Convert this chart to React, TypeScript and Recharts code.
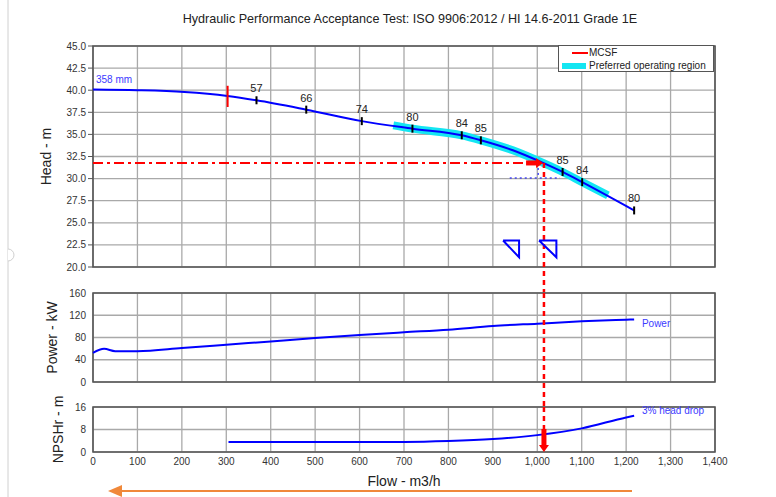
import React from 'react';
import {
  ComposedChart,
  Line,
  Scatter,
  XAxis,
  YAxis,
  CartesianGrid,
  ReferenceLine,
  ReferenceArea,
  ReferenceDot,
} from 'recharts';

// axis ticks
const flowTicks = [0, 100, 200, 300, 400, 500, 600, 700, 800, 900, 1000, 1100, 1200, 1300, 1400];
const headTicks = [20, 22.5, 25, 27.5, 30, 32.5, 35, 37.5, 40, 42.5, 45];
const powerTicks = [0, 40, 80, 120, 160];
const npshTicks = [0, 8, 16];

// head curve (358 mm impeller)
const headFlow = [0, 100, 206, 303, 368, 480, 605, 719, 830, 873, 945, 1013, 1057, 1101, 1218];
const headValue = [40.07, 40.0, 39.8, 39.35, 38.86, 37.8, 36.5, 35.65, 34.9, 34.33, 33.2, 31.77, 30.75, 29.6, 26.4];

// efficiency markers on the head curve
const effFlow = [368, 480, 605, 719, 830, 873, 1057, 1101, 1218];
const effHead = [38.86, 37.8, 36.5, 35.65, 34.9, 34.33, 30.75, 29.6, 26.4];
const effValue = [57, 66, 74, 80, 84, 85, 85, 84, 80];

// preferred operating region band
const porFlow = [676, 719, 830, 873, 945, 1013, 1057, 1101, 1159];
const porHead = [36.03, 35.65, 34.9, 34.33, 33.2, 31.77, 30.75, 29.6, 28.1];

// power curve
const powerFlow = [0, 25, 50, 100, 200, 300, 400, 500, 600, 700, 800, 900, 1000, 1100, 1200, 1218];
const powerValue = [52.5, 59.8, 55.5, 55.5, 61, 67, 73, 79, 84.5, 89.4, 94, 100.7, 104.9, 109, 112, 112.5];

// NPSHr (3% head drop)
const npshFlow = [305, 400, 500, 600, 700, 800, 900, 1000, 1100, 1200, 1218];
const npshValue = [3.6, 3.6, 3.6, 3.6, 3.6, 3.9, 4.6, 6.0, 8.4, 12.3, 12.9];

// duty point / annotations
const mcsfFlow = 303;
const mcsfHeadRange = [38.1, 40.5];
const dutyFlow = 1013;
const dutyHead = 31.77;
const dropFlow = 1015;
const tol1Flow = [923, 959];
const tol2Flow = [1004, 1043];
const tolHead = [23.0, 21.1];
const dotHead = 30.07;
const dotFlow = [938, 1051];
const dotVertFlow = 1002;

const pts = (xs: number[], ys: number[]) => xs.map((x, i) => ({ x, y: ys[i] }));
const tri = (xs: number[], ys: number[]) => [
  { x: xs[0], y: ys[0] },
  { x: xs[1], y: ys[0] },
  { x: xs[1], y: ys[1] },
  { x: xs[0], y: ys[0] },
];

const headData = pts(headFlow, headValue);
const effData = effFlow.map((x, i) => ({ x, y: effHead[i], eff: effValue[i] }));
const porData = pts(porFlow, porHead);
const powerData = pts(powerFlow, powerValue);
const npshData = pts(npshFlow, npshValue);

const FONT = '"Liberation Sans", Arial, sans-serif';
const GRID = '#a9a9a9';
const FRAME = '#555';
const BLUE = '#0000ff';
const LABEL_BLUE = '#3b3bff';
const RED = '#ff0000';
const tickStyle = { fontSize: 10, fill: '#333', fontFamily: FONT };

const EffTick = (props: any) => {
  const { cx, cy, payload } = props;
  return (
    <g>
      <line x1={cx} y1={cy - 4} x2={cx} y2={cy + 4} stroke="#000" strokeWidth={2} />
      <text x={cx} y={cy - 8} textAnchor="middle" fontSize={11} fill="#222" fontFamily={FONT}>
        {payload.eff}
      </text>
    </g>
  );
};

const RightArrow = (props: any) => {
  const { cx, cy } = props;
  return (
    <g>
      <rect x={cx - 17} y={cy - 2.5} width={11} height={5} fill={RED} />
      <polygon points={`${cx - 7},${cy - 5} ${cx},${cy} ${cx - 7},${cy + 5}`} fill={RED} />
    </g>
  );
};

const DownArrow = (props: any) => {
  const { cx, cy } = props;
  return (
    <g>
      <rect x={cx - 2.5} y={cy - 23} width={5} height={17} fill={RED} />
      <polygon points={`${cx - 5},${cy - 7} ${cx + 5},${cy - 7} ${cx},${cy}`} fill={RED} />
    </g>
  );
};

const fmtFlow = (v: number) => v.toLocaleString('en-US');

export default function App() {
  return (
    <div style={{ position: 'absolute', left: 0, top: 0, width: 776, height: 497, background: '#fff', fontFamily: FONT, overflow: 'hidden' }}>
      {/* page frame */}
      <svg width={776} height={497} style={{ position: 'absolute', left: 0, top: 0 }}>
        <line x1={8} y1={0} x2={8} y2={497} stroke="#d0d0d0" strokeWidth={1} />
        <path d="M8,249 A6,6 0 0 1 8,261" fill="#fff" stroke="#d0d0d0" />
        <line x1={122} y1={491} x2={632} y2={491} stroke="#f0883a" strokeWidth={2} />
        <polygon points="108,491 122,485 122,497" fill="#f0883a" />
      </svg>

      <div style={{ position: 'absolute', left: 22, width: 776, top: 12, textAlign: 'center', fontSize: 12.6, color: '#222' }}>
        Hydraulic Performance Acceptance Test: ISO 9906:2012 / HI 14.6-2011 Grade 1E
      </div>

      {/* Head chart */}
      <div style={{ position: 'absolute', left: 0, top: 0 }}>
        <ComposedChart width={776} height={293} margin={{ top: 46, right: 61, bottom: 26, left: 48 }}>
          <CartesianGrid stroke={GRID} strokeWidth={1.3} />
          <XAxis dataKey="x" type="number" domain={[0, 1400]} ticks={flowTicks} hide />
          <YAxis
            dataKey="y"
            type="number"
            domain={[20, 45]}
            ticks={headTicks}
            width={45}
            tick={tickStyle}
            tickFormatter={(v: number) => v.toFixed(1)}
            tickSize={5}
            tickLine={{ stroke: FRAME }}
            axisLine={false}
            interval={0}
            allowDataOverflow
            label={{ value: 'Head - m', angle: -90, position: 'center', dx: -24, fontSize: 14, fill: '#222', fontFamily: FONT }}
          />
          <ReferenceArea x1={0} x2={1400} y1={20} y2={45} fill="none" stroke={FRAME} strokeWidth={1.6} ifOverflow="visible" />
          <Line data={porData} dataKey="y" type="monotone" stroke="#14e6f2" strokeWidth={8} dot={false} isAnimationActive={false} />
          <Line data={headData} dataKey="y" type="monotone" stroke={BLUE} strokeWidth={2} dot={false} isAnimationActive={false} />
          <ReferenceLine segment={[{ x: mcsfFlow, y: mcsfHeadRange[0] }, { x: mcsfFlow, y: mcsfHeadRange[1] }]} stroke={RED} strokeWidth={2} />
          <ReferenceLine segment={[{ x: 0, y: dutyHead }, { x: dutyFlow - 30, y: dutyHead }]} stroke={RED} strokeWidth={2} strokeDasharray="10 4 3 4" />
          <ReferenceLine segment={[{ x: dropFlow, y: dutyHead }, { x: dropFlow, y: 17 }]} stroke={RED} strokeWidth={2.5} strokeDasharray="5 4" ifOverflow="visible" />
          <ReferenceLine segment={[{ x: dotFlow[0], y: dotHead }, { x: dotFlow[1], y: dotHead }]} stroke={BLUE} strokeWidth={1} strokeDasharray="2 3" />
          <ReferenceLine segment={[{ x: dotVertFlow, y: dutyHead }, { x: dotVertFlow, y: dotHead }]} stroke={BLUE} strokeWidth={1} strokeDasharray="2 3" />
          <Line data={tri(tol1Flow, tolHead)} dataKey="y" type="linear" stroke={BLUE} strokeWidth={2} dot={false} isAnimationActive={false} />
          <Line data={tri(tol2Flow, tolHead)} dataKey="y" type="linear" stroke={BLUE} strokeWidth={2} dot={false} isAnimationActive={false} />
          <Scatter data={effData} dataKey="y" shape={<EffTick />} isAnimationActive={false} />
          <Scatter data={[{ x: dutyFlow, y: dutyHead }]} dataKey="y" shape={<RightArrow />} isAnimationActive={false} />
          <ReferenceDot x={0} y={41.2} r={0} ifOverflow="visible" label={{ value: '358 mm', position: 'right', offset: 3, fill: LABEL_BLUE, fontSize: 10, fontFamily: FONT }} />
        </ComposedChart>
      </div>

      {/* Power chart */}
      <div style={{ position: 'absolute', left: 0, top: 270 }}>
        <ComposedChart width={776} height={137} margin={{ top: 23, right: 61, bottom: 25, left: 48 }}>
          <CartesianGrid stroke={GRID} strokeWidth={1.3} />
          <XAxis dataKey="x" type="number" domain={[0, 1400]} ticks={flowTicks} hide />
          <YAxis
            dataKey="y"
            type="number"
            domain={[0, 160]}
            ticks={powerTicks}
            width={45}
            tick={tickStyle}
            tickSize={5}
            tickLine={false}
            axisLine={false}
            interval={0}
            allowDataOverflow
            label={{ value: 'Power - kW', angle: -90, position: 'center', dx: -18, fontSize: 14, fill: '#222', fontFamily: FONT }}
          />
          <ReferenceArea x1={0} x2={1400} y1={0} y2={160} fill="none" stroke={FRAME} strokeWidth={1.6} ifOverflow="visible" />
          <Line data={powerData} dataKey="y" type="monotone" stroke={BLUE} strokeWidth={2} dot={false} isAnimationActive={false} />
          <ReferenceLine segment={[{ x: dropFlow, y: 160 }, { x: dropFlow, y: -45 }]} stroke={RED} strokeWidth={2.5} strokeDasharray="5 4" ifOverflow="visible" />
          <ReferenceDot x={1222} y={106} r={0} ifOverflow="visible" label={{ value: 'Power', position: 'right', offset: 6, fill: LABEL_BLUE, fontSize: 10, fontFamily: FONT }} />
        </ComposedChart>
      </div>

      {/* NPSHr chart */}
      <div style={{ position: 'absolute', left: 0, top: 390 }}>
        <ComposedChart width={776} height={107} margin={{ top: 17, right: 61, bottom: 15, left: 48 }}>
          <CartesianGrid stroke={GRID} strokeWidth={1.3} />
          <XAxis
            dataKey="x"
            type="number"
            domain={[0, 1400]}
            ticks={flowTicks}
            interval={0}
            height={30}
            tick={tickStyle}
            tickFormatter={fmtFlow}
            tickSize={4}
            tickLine={false}
            axisLine={false}
            label={{ value: 'Flow - m3/h', position: 'insideBottom', offset: -4, fontSize: 14, fill: '#222', fontFamily: FONT }}
          />
          <YAxis
            dataKey="y"
            type="number"
            domain={[0, 16]}
            ticks={npshTicks}
            width={45}
            tick={tickStyle}
            tickSize={5}
            tickLine={false}
            axisLine={false}
            interval={0}
            allowDataOverflow
            label={{ value: 'NPSHr - m', angle: -90, position: 'center', dx: -12, fontSize: 14, fill: '#222', fontFamily: FONT }}
          />
          <ReferenceArea x1={0} x2={1400} y1={0} y2={16} fill="none" stroke={FRAME} strokeWidth={1.6} ifOverflow="visible" />
          <Line data={npshData} dataKey="y" type="monotone" stroke={BLUE} strokeWidth={2} dot={false} isAnimationActive={false} />
          <ReferenceLine segment={[{ x: dropFlow, y: 16 }, { x: dropFlow, y: 7 }]} stroke={RED} strokeWidth={2.5} strokeDasharray="5 4" ifOverflow="visible" />
          <Scatter data={[{ x: dropFlow, y: 0 }]} dataKey="y" shape={<DownArrow />} isAnimationActive={false} />
          <ReferenceDot x={1222} y={14.6} r={0} ifOverflow="visible" label={{ value: '3% head drop', position: 'right', offset: 6, fill: LABEL_BLUE, fontSize: 10, fontFamily: FONT }} />
        </ComposedChart>
      </div>

      {/* legend */}
      <div style={{ position: 'absolute', left: 558, top: 45, width: 156, height: 27, border: '1px solid #555', background: '#fff', fontSize: 10, color: '#222', boxSizing: 'border-box' }}>
        <div style={{ position: 'absolute', left: 13, top: 6, width: 16, height: 2, background: RED }} />
        <div style={{ position: 'absolute', left: 30, top: 1 }}>MCSF</div>
        <div style={{ position: 'absolute', left: 3, top: 17, width: 24, height: 6, background: '#14e6f2' }} />
        <div style={{ position: 'absolute', left: 30, top: 14 }}>Preferred operating region</div>
      </div>
    </div>
  );
}
